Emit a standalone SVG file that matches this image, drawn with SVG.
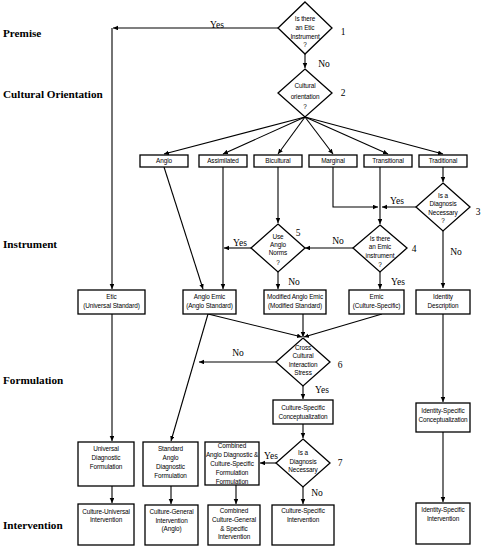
<svg xmlns="http://www.w3.org/2000/svg" width="485" height="550" viewBox="0 0 485 550">
<defs>
<marker id="a" markerUnits="userSpaceOnUse" markerWidth="6" markerHeight="6" refX="5" refY="2.3" orient="auto">
<path d="M0,0 L5,2.3 L0,4.6 z" fill="#000"/>
</marker>
<style>
.b{fill:#fff;stroke:#000;stroke-width:1.3}
.t{font-family:"Liberation Sans",Arial,sans-serif;font-size:6.4px;text-anchor:middle;fill:#000;letter-spacing:-0.1px}
.l{font-family:"Liberation Serif","Times New Roman",serif;font-size:9.5px;text-anchor:middle;fill:#000}
.h{font-family:"Liberation Serif","Times New Roman",serif;font-size:11.2px;font-weight:bold;fill:#000}
.c path{fill:none;stroke:#000;stroke-width:1.1;marker-end:url(#a)}
</style>
</defs>
<rect width="485" height="550" fill="#fff"/>

<g id="stages">
<text class="h" x="3" y="37">Premise</text>
<text class="h" x="3" y="98">Cultural Orientation</text>
<text class="h" x="3" y="248">Instrument</text>
<text class="h" x="3" y="384">Formulation</text>
<text class="h" x="3" y="529">Intervention</text>
</g>

<g id="connectors" class="c">
<path d="M278,28 H113"/>
<path d="M112,28 V289"/>
<path d="M305,54 V68"/>
<path d="M305,117 L164,154"/>
<path d="M305,117 L223,154"/>
<path d="M305,117 L278,154"/>
<path d="M305,117 L333,154"/>
<path d="M305,117 L388,154"/>
<path d="M305,117 L443,154"/>
<path d="M164,167 L203,289"/>
<path d="M223,167 V289"/>
<path d="M278,167 V223"/>
<path d="M333,167 V207 H378"/>
<path d="M380,167 V224"/>
<path d="M443,167 V182"/>
<path d="M416,207 H382"/>
<path d="M443,231 V288"/>
<path d="M353,248 H305"/>
<path d="M380,272 V289"/>
<path d="M251,248 H224"/>
<path d="M278,272 V289"/>
<path d="M208,314 L171,441"/>
<path d="M208,314 L302,337"/>
<path d="M303,314 V337"/>
<path d="M382,314 L304,337"/>
<path d="M276,362 H199"/>
<path d="M303,386 V399"/>
<path d="M303,424 V438"/>
<path d="M276,463 H260"/>
<path d="M303,487 V504"/>
<path d="M112,314 V441"/>
<path d="M112,486 V503"/>
<path d="M171,486 V504"/>
<path d="M236,485 V504"/>
<path d="M443,314 V402"/>
<path d="M443,432 V502"/>
</g>

<g id="labels">
<text class="l" x="217" y="28">Yes</text>
<text class="l" x="324" y="67">No</text>
<text class="l" x="343" y="35">1</text>
<text class="l" x="343" y="96">2</text>
<text class="l" x="478" y="215">3</text>
<text class="l" x="397" y="204">Yes</text>
<text class="l" x="456" y="255">No</text>
<text class="l" x="414" y="252">4</text>
<text class="l" x="338" y="244">No</text>
<text class="l" x="398" y="285">Yes</text>
<text class="l" x="298" y="236">5</text>
<text class="l" x="240" y="246">Yes</text>
<text class="l" x="294" y="285">No</text>
<text class="l" x="238" y="356">No</text>
<text class="l" x="340" y="368">6</text>
<text class="l" x="322" y="393">Yes</text>
<text class="l" x="271" y="459">Yes</text>
<text class="l" x="340" y="466">7</text>
<text class="l" x="317" y="496">No</text>
</g>

<g id="q1"><polygon class="b" points="305,2 332,28 305,54 278,28"/>
<text class="t" x="305" y="21">Is there</text><text class="t" x="305" y="30">an Etic</text><text class="t" x="305" y="39">Instrument</text><text class="t" x="305" y="47">?</text></g>

<g id="q2"><polygon class="b" points="305,69 332,93 305,117 278,93"/>
<text class="t" x="305" y="88">Cultural</text><text class="t" x="305" y="99">orientation</text><text class="t" x="305" y="109">?</text></g>

<g id="anglo"><rect class="b" x="140" y="155" width="48" height="12"/><text class="t" x="164" y="163">Anglo</text></g>
<g id="assimilated"><rect class="b" x="199" y="155" width="48" height="12"/><text class="t" x="223" y="163">Assimilated</text></g>
<g id="bicultural"><rect class="b" x="254" y="155" width="48" height="12"/><text class="t" x="278" y="163">Bicultural</text></g>
<g id="marginal"><rect class="b" x="309" y="155" width="48" height="12"/><text class="t" x="333" y="163">Marginal</text></g>
<g id="transitional"><rect class="b" x="364" y="155" width="48" height="12"/><text class="t" x="388" y="163">Transitional</text></g>
<g id="traditional"><rect class="b" x="419" y="155" width="48" height="12"/><text class="t" x="443" y="163">Traditional</text></g>

<g id="q3"><polygon class="b" points="443,183 470,207 443,231 416,207"/>
<text class="t" x="443" y="198">Is a</text><text class="t" x="443" y="206">Diagnosis</text><text class="t" x="443" y="215">Necessary</text><text class="t" x="443" y="223">?</text></g>

<g id="q4"><polygon class="b" points="380,225 407,248 380,272 353,248"/>
<text class="t" x="380" y="241">Is there</text><text class="t" x="380" y="249">an Emic</text><text class="t" x="380" y="258">instrument</text><text class="t" x="380" y="267">?</text></g>

<g id="q5"><polygon class="b" points="278,224 305,248 278,272 251,248"/>
<text class="t" x="278" y="239">Use</text><text class="t" x="278" y="247">Anglo</text><text class="t" x="278" y="255">Norms</text><text class="t" x="278" y="265">?</text></g>

<g id="etic"><rect class="b" x="78" y="290" width="67" height="24"/><text class="t" x="111.5" y="299">Etic</text><text class="t" x="111.5" y="308">(Universal Standard)</text></g>
<g id="anglo-emic"><rect class="b" x="183" y="290" width="53" height="24"/><text class="t" x="209.5" y="299">Anglo Emic</text><text class="t" x="209.5" y="308">(Anglo Standard)</text></g>
<g id="modified"><rect class="b" x="264" y="290" width="62" height="24"/><text class="t" x="295" y="299">Modified Anglo Emic</text><text class="t" x="295" y="308">(Modified Standard)</text></g>
<g id="emic"><rect class="b" x="349" y="290" width="55" height="24"/><text class="t" x="376.5" y="299">Emic</text><text class="t" x="376.5" y="308">(Culture-Specific)</text></g>
<g id="identity-desc"><rect class="b" x="416" y="290" width="54" height="24"/><text class="t" x="443" y="299">Identity</text><text class="t" x="443" y="308">Description</text></g>

<g id="q6"><polygon class="b" points="303,338 330,362 303,386 276,362"/>
<text class="t" x="303" y="350">Cross</text><text class="t" x="303" y="358">Cultural</text><text class="t" x="303" y="367">Interaction</text><text class="t" x="303" y="375">Stress</text></g>

<g id="cs-concept"><rect class="b" x="273" y="400" width="60" height="24"/><text class="t" x="303" y="410">Culture-Specific</text><text class="t" x="303" y="419">Conceptualization</text></g>
<g id="is-concept"><rect class="b" x="416" y="403" width="54" height="29"/><text class="t" x="443" y="413">Identity-Specific</text><text class="t" x="443" y="422">Conceptualization</text></g>

<g id="q7"><polygon class="b" points="303,439 330,463 303,487 276,463"/>
<text class="t" x="303" y="455">Is a</text><text class="t" x="303" y="464">Diagnosis</text><text class="t" x="303" y="472">Necessary</text></g>

<g id="universal-form"><rect class="b" x="78" y="442" width="56" height="44"/><text class="t" x="106" y="451">Universal</text><text class="t" x="106" y="460">Diagnostic</text><text class="t" x="106" y="469">Formulation</text></g>
<g id="standard-form"><rect class="b" x="143" y="442" width="55" height="44"/><text class="t" x="170.5" y="451">Standard</text><text class="t" x="170.5" y="460">Anglo</text><text class="t" x="170.5" y="469">Diagnostic</text><text class="t" x="170.5" y="478">Formulation</text></g>
<g id="combined-form"><rect class="b" x="205" y="442" width="54" height="43"/><text class="t" x="232" y="448">Combined</text><text class="t" x="232" y="457">Anglo Diagnostic &amp;</text><text class="t" x="232" y="466">Culture-Specific</text><text class="t" x="232" y="475">Formulation</text><text class="t" x="232" y="484">Formulation</text></g>

<g id="cu-int"><rect class="b" x="78" y="504" width="56" height="41"/><text class="t" x="106" y="514">Culture-Universal</text><text class="t" x="106" y="522">Intervention</text></g>
<g id="cg-int"><rect class="b" x="145" y="505" width="53" height="40"/><text class="t" x="171.5" y="514">Culture-General</text><text class="t" x="171.5" y="523">Intervention</text><text class="t" x="171.5" y="531">(Anglo)</text></g>
<g id="combined-int"><rect class="b" x="208" y="505" width="52" height="40"/><text class="t" x="234" y="513">Combined</text><text class="t" x="234" y="522">Culture-General</text><text class="t" x="234" y="531">&amp; Specific</text><text class="t" x="234" y="539">Intervention</text></g>
<g id="cs-int"><rect class="b" x="272" y="505" width="62" height="40"/><text class="t" x="303" y="513">Culture-Specific</text><text class="t" x="303" y="522">Intervention</text></g>
<g id="is-int"><rect class="b" x="416" y="503" width="54" height="41"/><text class="t" x="443" y="512">Identity-Specific</text><text class="t" x="443" y="521">Intervention</text></g>
</svg>
